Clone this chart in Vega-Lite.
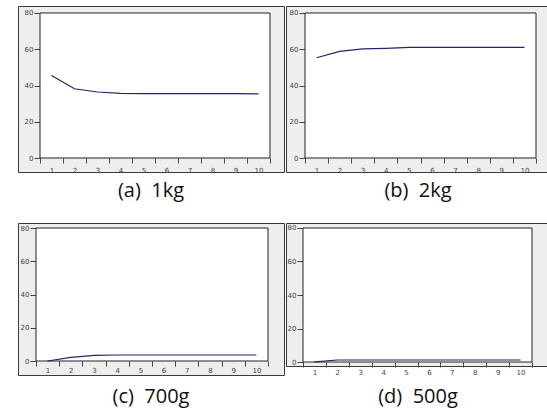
{
  "$schema": "https://vega.github.io/schema/vega-lite/v6.json",
  "background": "white",
  "padding": {"left": 17, "top": 5, "right": 0, "bottom": 0},
  "spacing": 20,
  "config": {
    "view": {"fill": "#eeeeee", "stroke": "#3a3a3a", "strokeWidth": 1},
    "axis": {"grid": false, "domain": false, "title": null, "labelFont": "DejaVu Sans", "labelFontSize": 7, "labelColor": "#444", "tickColor": "#444", "labelFlush": false, "labelOverlap": false, "labelBound": false, "labelSeparation": 0},
    "axisX": {"labelOverlap": false},
    "axisY": {"labelOverlap": false},
    "axisQuantitative": {"labelOverlap": false},
    "title": {"font": "Open Sans", "fontSize": 20, "fontWeight": "normal", "color": "#111", "orient": "bottom", "anchor": "middle"}
  },
  "datasets": {
    "a": [{"period":1,"value":45.5},{"period":2,"value":38.2},{"period":3,"value":36.4},{"period":4,"value":35.7},{"period":5,"value":35.5},{"period":6,"value":35.5},{"period":7,"value":35.5},{"period":8,"value":35.5},{"period":9,"value":35.5},{"period":10,"value":35.4}],
    "b": [{"period":1,"value":55.3},{"period":2,"value":58.8},{"period":3,"value":60.2},{"period":4,"value":60.5},{"period":5,"value":61.0},{"period":6,"value":61.0},{"period":7,"value":61.0},{"period":8,"value":61.0},{"period":9,"value":61.0},{"period":10,"value":61.0}],
    "c": [{"period":1,"value":0.0},{"period":2,"value":2.2},{"period":3,"value":3.4},{"period":4,"value":3.6},{"period":5,"value":3.6},{"period":6,"value":3.6},{"period":7,"value":3.6},{"period":8,"value":3.6},{"period":9,"value":3.6},{"period":10,"value":3.6}],
    "d": [{"period":1,"value":0.1},{"period":2,"value":1.2},{"period":3,"value":1.2},{"period":4,"value":1.2},{"period":5,"value":1.2},{"period":6,"value":1.2},{"period":7,"value":1.2},{"period":8,"value":1.2},{"period":9,"value":1.2},{"period":10,"value":1.2}],
    "box": [{"box": "plot"}]
  },
  "vconcat": [
    {
      "spacing": 0,
      "hconcat": [
        {
          "width": 266, "height": 166,
          "title": {"text": "(a)\u00a0\u00a01kg", "offset": 8},
          "encoding": {
            "x": {"type": "quantitative", "scale": {"domain": [-0.4565, 11.1087], "nice": false, "zero": false},
                  "axis": {"offset": -14, "values": [0.5,1.5,2.5,3.5,4.5,5.5,6.5,7.5,8.5,9.5,10.5], "labelExpr": "datum.value > 10 ? '' : format(datum.value + 0.5, 'd')", "labelOffset": 11.5, "tickSize": 5, "labelPadding": 3, "labelOverlap": false}},
            "y": {"type": "quantitative", "scale": {"domain": [-7.724, 83.862], "nice": false, "zero": false},
                  "axis": {"offset": -22, "values": [0,20,40,60,80], "tickSize": 6, "labelPadding": 1, "labelOverlap": false}}
          },
          "layer": [
            {"data": {"name": "box"}, "mark": {"type": "rect", "fill": "white", "stroke": "#222", "strokeWidth": 1},
             "encoding": {"x": {"datum": 0.5, "type": "quantitative"}, "x2": {"datum": 10.5}, "y": {"datum": 0, "type": "quantitative"}, "y2": {"datum": 80}}},
            {"data": {"name": "a"}, "mark": {"type": "line", "color": "#23236e", "strokeWidth": 1.2},
             "encoding": {"x": {"field": "period", "type": "quantitative"}, "y": {"field": "value", "type": "quantitative"}}}
          ]
        },
        {
          "width": 264, "height": 166,
          "title": {"text": "(b)\u00a0\u00a02kg", "offset": 8},
          "encoding": {
            "x": {"type": "quantitative", "scale": {"domain": [-0.3225, 11.106], "nice": false, "zero": false},
                  "axis": {"offset": -14, "values": [0.5,1.5,2.5,3.5,4.5,5.5,6.5,7.5,8.5,9.5,10.5], "labelExpr": "datum.value > 10 ? '' : format(datum.value + 0.5, 'd')", "labelOffset": 11.5, "tickSize": 5, "labelPadding": 3, "labelOverlap": false}},
            "y": {"type": "quantitative", "scale": {"domain": [-7.724, 83.862], "nice": false, "zero": false},
                  "axis": {"offset": -19, "values": [0,20,40,60,80], "tickSize": 6, "labelPadding": 1, "labelOverlap": false}}
          },
          "layer": [
            {"data": {"name": "box"}, "mark": {"type": "rect", "fill": "white", "stroke": "#222", "strokeWidth": 1},
             "encoding": {"x": {"datum": 0.5, "type": "quantitative"}, "x2": {"datum": 10.5}, "y": {"datum": 0, "type": "quantitative"}, "y2": {"datum": 80}}},
            {"data": {"name": "b"}, "mark": {"type": "line", "color": "#23236e", "strokeWidth": 1.2},
             "encoding": {"x": {"field": "period", "type": "quantitative"}, "y": {"field": "value", "type": "quantitative"}}}
          ]
        }
      ]
    },
    {
      "spacing": 0,
      "hconcat": [
        {
          "width": 266, "height": 152,
          "title": {"text": "(c)\u00a0\u00a0700g", "offset": 12},
          "encoding": {
            "x": {"type": "quantitative", "scale": {"domain": [-0.2759, 11.19], "nice": false, "zero": false},
                  "axis": {"offset": -14, "values": [0.5,1.5,2.5,3.5,4.5,5.5,6.5,7.5,8.5,9.5,10.5], "labelExpr": "datum.value > 10 ? '' : format(datum.value + 0.5, 'd')", "labelOffset": 11.6, "tickSize": 5, "labelPadding": 0, "labelOverlap": false}},
            "y": {"type": "quantitative", "scale": {"domain": [-8.421, 83.008], "nice": false, "zero": false},
                  "axis": {"offset": -18, "values": [0,20,40,60,80], "tickSize": 6, "labelPadding": 1, "labelOverlap": false}}
          },
          "layer": [
            {"data": {"name": "box"}, "mark": {"type": "rect", "fill": "white", "stroke": "#222", "strokeWidth": 1},
             "encoding": {"x": {"datum": 0.5, "type": "quantitative"}, "x2": {"datum": 10.5}, "y": {"datum": 0, "type": "quantitative"}, "y2": {"datum": 80}}},
            {"data": {"name": "c"}, "mark": {"type": "line", "color": "#23236e", "strokeWidth": 1.2},
             "encoding": {"x": {"field": "period", "type": "quantitative"}, "y": {"field": "value", "type": "quantitative"}}}
          ]
        },
        {
          "width": 264, "height": 143,
          "title": {"text": "(d)\u00a0\u00a0500g", "offset": 12},
          "encoding": {
            "x": {"type": "quantitative", "scale": {"domain": [-0.2424, 11.286], "nice": false, "zero": false},
                  "axis": {"offset": -4, "values": [0.5,1.5,2.5,3.5,4.5,5.5,6.5,7.5,8.5,9.5,10.5], "labelExpr": "datum.value > 10 ? '' : format(datum.value + 0.5, 'd')", "labelOffset": 11.45, "tickSize": 5, "labelPadding": 1, "labelOverlap": false}},
            "y": {"type": "quantitative", "scale": {"domain": [-2.388, 82.985], "nice": false, "zero": false},
                  "axis": {"offset": -17, "values": [0,20,40,60,80], "tickSize": 6, "labelPadding": 1, "labelOverlap": false}}
          },
          "layer": [
            {"data": {"name": "box"}, "mark": {"type": "rect", "fill": "white", "stroke": "#222", "strokeWidth": 1},
             "encoding": {"x": {"datum": 0.5, "type": "quantitative"}, "x2": {"datum": 10.5}, "y": {"datum": 0, "type": "quantitative"}, "y2": {"datum": 80}}},
            {"data": {"name": "d"}, "mark": {"type": "line", "color": "#23236e", "strokeWidth": 1.2},
             "encoding": {"x": {"field": "period", "type": "quantitative"}, "y": {"field": "value", "type": "quantitative"}}}
          ]
        }
      ]
    }
  ]
}
